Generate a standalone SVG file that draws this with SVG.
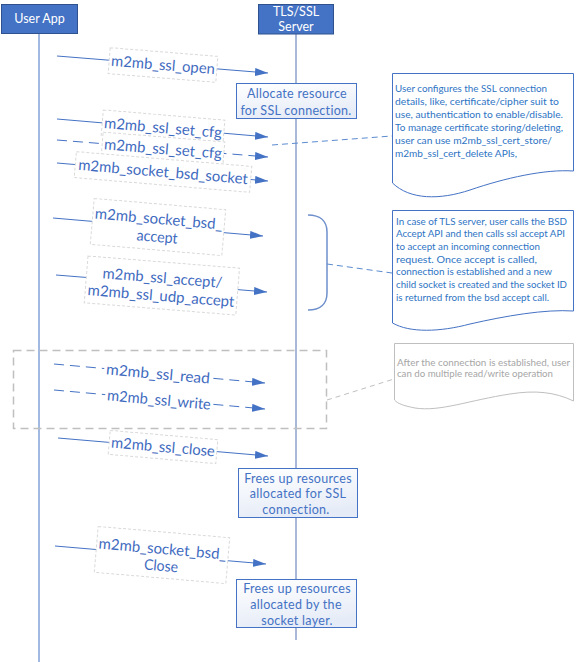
<svg xmlns="http://www.w3.org/2000/svg" width="576" height="662" viewBox="0 0 576 662">
<style>
.hdr{fill:#4472C4;stroke:#2F528F;stroke-width:1}
.hdrt{font-family:Lato,"Liberation Sans",sans-serif;font-size:12.5px;fill:#fff;text-anchor:middle}
.proc{fill:url(#pg);stroke:#4472C4;stroke-width:1}
.proct{font-family:Lato,"Liberation Sans",sans-serif;font-size:12.5px;fill:#4472C4;text-anchor:middle;letter-spacing:0.3px}
.msg{stroke:#4472C4;stroke-width:1;fill:none;marker-end:url(#ah)}
.dash{stroke-dasharray:10 6}
.lbox{fill:#fff;stroke:#D9D9D9;stroke-width:1;stroke-dasharray:3 2}
.lboxn{fill:#fff;stroke:none}
.lt{font-family:Lato,"Liberation Sans",sans-serif;font-size:15px;fill:#3F6BBF;text-anchor:middle}
.note{fill:#fff;stroke:#4472C4;stroke-width:1}
.nt{font-family:Lato,"Liberation Sans",sans-serif;font-size:9.6px;fill:#2E74C4}
.gnote{fill:#fff;stroke:#BFBFBF;stroke-width:1}
.gt{font-family:Lato,"Liberation Sans",sans-serif;font-size:9px;fill:#A6A6A6}
</style>
<defs>
<linearGradient id="pg" x1="0" y1="0" x2="0.3" y2="1">
<stop offset="0" stop-color="#FFFFFF"/>
<stop offset="1" stop-color="#E6ECF7"/>
</linearGradient>
<marker id="ah" viewBox="0 0 13 8" refX="13" refY="4" markerWidth="13" markerHeight="8" markerUnits="userSpaceOnUse" orient="auto">
<path d="M0,0 L13,4 L0,8 Z" fill="#4472C4"/>
</marker>
</defs>

<g id="lifelines">
<line x1="39" y1="33" x2="39" y2="662" stroke="#4472C4" stroke-width="1"/>
<line x1="296" y1="34" x2="296" y2="640" stroke="#A9B8D6" stroke-width="2"/>
</g>

<g id="user-app">
<rect class="hdr" x="1.5" y="4.5" width="76" height="29"/>
<text class="hdrt" x="39.5" y="23">User App</text>
</g>
<g id="tls-server">
<rect class="hdr" x="258.5" y="4.5" width="75" height="29.5"/>
<text class="hdrt" x="296" y="15.5">TLS/SSL</text>
<text class="hdrt" x="296" y="31">Server</text>
</g>

<g id="group-box">
<rect x="13.5" y="350.5" width="313" height="78" fill="none" stroke="#BFBFBF" stroke-width="1.5" stroke-dasharray="8 5"/>
</g>

<g id="connectors">
<line class="msg" x1="57" y1="56" x2="268" y2="73"/>
<line class="msg" x1="57" y1="119" x2="268" y2="137"/>
<line class="msg dash" x1="57" y1="140" x2="268" y2="157"/>
<line class="msg" x1="57" y1="163" x2="268" y2="181"/>
<line class="msg" x1="53" y1="218" x2="263" y2="236"/>
<line class="msg" x1="56" y1="275" x2="267" y2="292"/>
<line class="msg dash" x1="54" y1="364" x2="265" y2="383"/>
<line class="msg dash" x1="54" y1="390" x2="265" y2="409"/>
<line class="msg" x1="58" y1="438" x2="268" y2="456"/>
<line class="msg" x1="55" y1="546" x2="266" y2="564"/>
<line x1="272" y1="145" x2="392" y2="136" stroke="#5B8BD0" stroke-width="1" stroke-dasharray="6 4"/>
<path d="M308,215 C320,215 327,221 327,232 V293 C327,304 320,310 308,310" fill="none" stroke="#6D8FCB" stroke-width="1.5"/>
<line x1="327" y1="264" x2="392" y2="273" stroke="#5B8BD0" stroke-width="1" stroke-dasharray="6 4"/>
<line x1="327" y1="400" x2="394" y2="379" stroke="#BFBFBF" stroke-width="1" stroke-dasharray="5 4"/>
</g>

<g id="label-ssl-open" transform="translate(163,65) rotate(4.6)">
<rect class="lbox" x="-54" y="-13" width="108" height="26"/>
<text class="lt" y="5" textLength="104" lengthAdjust="spacingAndGlyphs">m2mb_ssl_open</text>
</g>
<g id="label-set-cfg" transform="translate(163,128) rotate(4.8)">
<rect class="lbox" x="-61" y="-13" width="122" height="26"/>
<text class="lt" y="5" textLength="118" lengthAdjust="spacingAndGlyphs">m2mb_ssl_set_cfg</text>
</g>
<g id="label-set-cfg2" transform="translate(163,149) rotate(4.6)">
<rect class="lbox" x="-61" y="-12" width="122" height="25"/>
<text class="lt" y="5" textLength="118" lengthAdjust="spacingAndGlyphs">m2mb_ssl_set_cfg</text>
</g>
<g id="label-bsd-socket" transform="translate(163,172) rotate(4.8)">
<rect class="lbox" x="-88" y="-13" width="176" height="26"/>
<text class="lt" y="5" textLength="170" lengthAdjust="spacingAndGlyphs">m2mb_socket_bsd_socket</text>
</g>
<g id="label-bsd-accept" transform="translate(158,227) rotate(4.9)">
<rect class="lbox" x="-66" y="-23" width="132" height="46"/>
<text class="lt" y="-3" textLength="128" lengthAdjust="spacingAndGlyphs">m2mb_socket_bsd_</text>
<text class="lt" y="15" textLength="41" lengthAdjust="spacingAndGlyphs">accept</text>
</g>
<g id="label-ssl-accept" transform="translate(162,284) rotate(4.6)">
<rect class="lbox" x="-76" y="-22" width="152" height="47"/>
<text class="lt" y="-1" textLength="120" lengthAdjust="spacingAndGlyphs">m2mb_ssl_accept/</text>
<text class="lt" y="17" textLength="147" lengthAdjust="spacingAndGlyphs">m2mb_ssl_udp_accept</text>
</g>
<g id="label-read" transform="translate(158,374) rotate(5.1)">
<rect class="lboxn" x="-54" y="-10" width="108" height="20"/>
<text class="lt" y="5" textLength="104" lengthAdjust="spacingAndGlyphs">m2mb_ssl_read</text>
</g>
<g id="label-write" transform="translate(159,400) rotate(5.1)">
<rect class="lboxn" x="-54" y="-10" width="108" height="20"/>
<text class="lt" y="5" textLength="104" lengthAdjust="spacingAndGlyphs">m2mb_ssl_write</text>
</g>
<g id="label-ssl-close" transform="translate(163,447) rotate(4.9)">
<rect class="lbox" x="-54" y="-12" width="108" height="24"/>
<text class="lt" y="5" textLength="104" lengthAdjust="spacingAndGlyphs">m2mb_ssl_close</text>
</g>
<g id="label-bsd-close" transform="translate(162,555) rotate(4.9)">
<rect class="lbox" x="-66" y="-23" width="132" height="46"/>
<text class="lt" y="-1" textLength="128" lengthAdjust="spacingAndGlyphs">m2mb_socket_bsd_</text>
<text class="lt" y="16" textLength="34" lengthAdjust="spacingAndGlyphs">Close</text>
</g>

<g id="allocate">
<rect class="proc" x="236.5" y="83.5" width="120" height="35"/>
<text class="proct" x="297" y="98">Allocate resource</text>
<text class="proct" x="296" y="114.5">for SSL connection.</text>
</g>
<g id="free-ssl">
<rect class="proc" x="238.5" y="468.5" width="119" height="49"/>
<text class="proct" x="298" y="482.5">Frees up resources</text>
<text class="proct" x="298" y="497.5">allocated for SSL</text>
<text class="proct" x="296" y="513.5">connection.</text>
</g>
<g id="free-socket">
<rect class="proc" x="236.5" y="579.5" width="120" height="48"/>
<text class="proct" x="297" y="592.5">Frees up resources</text>
<text class="proct" x="296" y="608.5">allocated by the</text>
<text class="proct" x="297" y="624.5">socket layer.</text>
</g>

<g id="note-cfg">
<path class="note" d="M392.5,73.5 H573.5 V171 C545,169 505,178 470,190 C440,200 410,200 392.5,183 Z"/>
<text class="nt" x="395" y="91.5" textLength="152" lengthAdjust="spacingAndGlyphs">User configures the SSL connection</text>
<text class="nt" x="395" y="104.5" textLength="164" lengthAdjust="spacingAndGlyphs">details, like, certificate/cipher suit to</text>
<text class="nt" x="395" y="117.5" textLength="168" lengthAdjust="spacingAndGlyphs">use, authentication  to enable/disable.</text>
<text class="nt" x="395" y="130.5" textLength="168" lengthAdjust="spacingAndGlyphs">To manage certificate storing/deleting,</text>
<text class="nt" x="395" y="143.5" textLength="157" lengthAdjust="spacingAndGlyphs">user can use m2mb_ssl_cert_store/</text>
<text class="nt" x="395" y="156.5" textLength="122" lengthAdjust="spacingAndGlyphs">m2mb_ssl_cert_delete APIs,</text>
</g>
<g id="note-accept">
<path class="note" d="M392.5,210.5 H573.5 V311 C545,309 505,316 470,324 C440,332 410,333 392.5,323 Z"/>
<text class="nt" x="396" y="224.5" textLength="171" lengthAdjust="spacingAndGlyphs">In case of  TLS server, user calls the BSD</text>
<text class="nt" x="396" y="237.2" textLength="169" lengthAdjust="spacingAndGlyphs">Accept API and then calls ssl accept API</text>
<text class="nt" x="396" y="249.8" textLength="144" lengthAdjust="spacingAndGlyphs">to accept an incoming connection</text>
<text class="nt" x="396" y="262.5" textLength="141" lengthAdjust="spacingAndGlyphs">request. Once accept is called,</text>
<text class="nt" x="396" y="275.2" textLength="156" lengthAdjust="spacingAndGlyphs">connection is established and a new</text>
<text class="nt" x="396" y="287.8" textLength="171" lengthAdjust="spacingAndGlyphs">child socket is created and the socket ID</text>
<text class="nt" x="396" y="300.5" textLength="153" lengthAdjust="spacingAndGlyphs">is returned from the bsd accept call.</text>
</g>
<g id="note-readwrite">
<path class="gnote" d="M394.5,343.5 H573.5 V401 C555,392 535,390 510,394 C470,400 440,412 415,408 C405,406 398,404 394.5,400 Z"/>
<text class="gt" x="397" y="365.5" textLength="173" lengthAdjust="spacingAndGlyphs">After the connection is established, user</text>
<text class="gt" x="397" y="377" textLength="156" lengthAdjust="spacingAndGlyphs">can do multiple read/write operation</text>
</g>
</svg>
